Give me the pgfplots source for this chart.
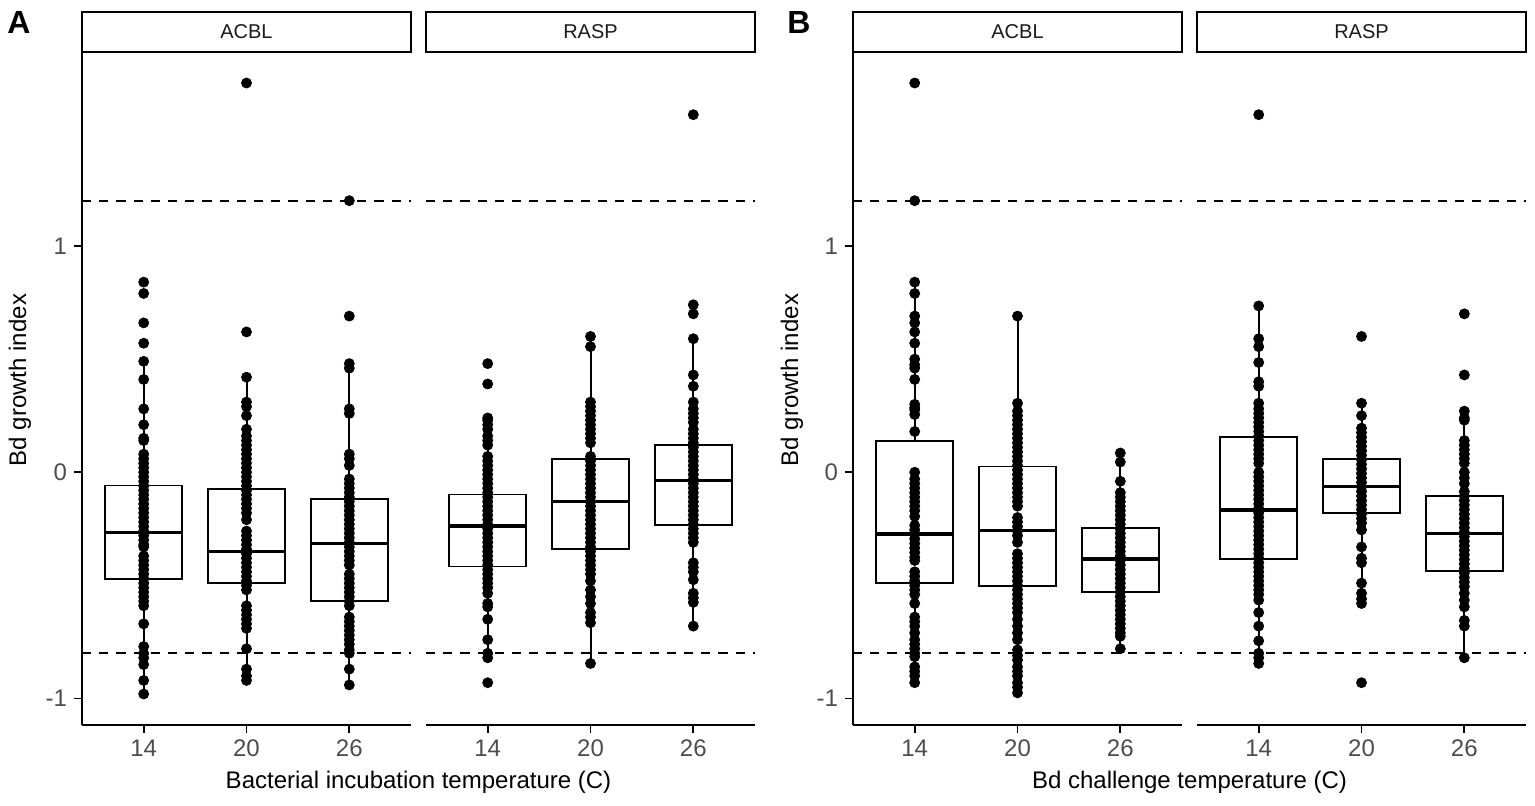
\documentclass[border=0pt]{standalone}
\usepackage{fontspec}
\setmainfont{Liberation Sans}
\usepackage{pgfplots}
\pgfplotsset{compat=1.18}
\usepgfplotslibrary{statistics}
\definecolor{tickgrey}{HTML}{4D4D4D}
\definecolor{stripgrey}{HTML}{1A1A1A}
\pgfplotsset{
  /pgfplots/boxplot/every whisker/.style={line width=1pt, draw=black, solid},
  /pgfplots/boxplot/every box/.style={line width=0.85pt, draw=black, fill=white, solid},
  /pgfplots/boxplot/every median/.style={line width=1.7pt, draw=black, solid},
  facet/.style={
    width=164.5pt, height=336.5pt, scale only axis,
    xmin=0.4, xmax=3.6, ymin=-1.117, ymax=1.857,
    axis x line*=bottom,
    xtick={1,2,3}, xticklabels={14,20,26},
    tick align=outside, major tick length=4pt,
    tick style={black, line width=0.9pt},
    axis line style={-, line width=0.9pt},
    ticklabel style={font=\fontsize{12}{14}\selectfont, text=tickgrey},
    clip=false,
  },
  leftfacet/.style={facet, axis y line*=left, ytick={-1,0,1}, yticklabels={-1,0,1}},
  rightfacet/.style={facet, axis y line=none, ytick=\empty},
  bx/.style={boxplot prepared={#1, draw direction=y, box extend=0.75, whisker extend=0},
    draw=black, fill=white, line width=0.85pt, solid, mark=none},
  pts/.style={only marks, mark=*, mark size=2.5pt, black, mark options={draw=none, fill=black}},
  refl/.style={black, line width=1pt, dash pattern=on 4.6pt off 4pt},
}
\newcommand{\strip}[1]{%
  \draw[line width=0.9pt] (rel axis cs:0,1) rectangle (rel axis cs:1,1.0594);
  \node[font=\fontsize{10}{12}\selectfont, text=stripgrey] at (rel axis cs:0.5,1.0297) {#1};}
\begin{document}
\begin{tikzpicture}
\path[use as bounding box] (0,0) rectangle (767.5pt,402.5pt);
% ---------------- Panel A, ACBL
\begin{axis}[leftfacet, at={(41pt,40pt)}, anchor=south west]
\addplot[refl] coordinates {(0.4,1.2) (3.6,1.2)};
\addplot[refl] coordinates {(0.4,-0.8) (3.6,-0.8)};
\addplot[bx={lower whisker=-0.98, lower quartile=-0.473, median=-0.265, upper quartile=-0.059, upper whisker=0.49, draw position=1}] coordinates {};
\addplot[bx={lower whisker=-0.92, lower quartile=-0.491, median=-0.351, upper quartile=-0.075, upper whisker=0.42, draw position=2}] coordinates {};
\addplot[bx={lower whisker=-0.94, lower quartile=-0.569, median=-0.314, upper quartile=-0.118, upper whisker=0.48, draw position=3}] coordinates {};
\addplot[pts] coordinates {
(1,0.84) (1,0.79) (1,0.66) (1,0.57) (1,0.49) (1,0.41) (1,0.28) (1,0.21) (1,0.15) (1,0.14)
(1,0.08) (1,0.06) (1,0.04) (1,0.02) (1,0.00) (1,-0.02) (1,-0.04) (1,-0.06) (1,-0.08) (1,-0.10)
(1,-0.12) (1,-0.14) (1,-0.16) (1,-0.18) (1,-0.20) (1,-0.22) (1,-0.24) (1,-0.26) (1,-0.28) (1,-0.30)
(1,-0.32) (1,-0.33) (1,-0.37) (1,-0.39) (1,-0.41) (1,-0.43) (1,-0.45) (1,-0.47) (1,-0.49) (1,-0.51)
(1,-0.53) (1,-0.55) (1,-0.57) (1,-0.59) (1,-0.67) (1,-0.77) (1,-0.80) (1,-0.82) (1,-0.85) (1,-0.92) (1,-0.98)
(2,1.72) (2,0.62) (2,0.42) (2,0.31) (2,0.29) (2,0.25) (2,0.19) (2,0.16) (2,0.14) (2,0.12)
(2,0.10) (2,0.08) (2,0.06) (2,0.04) (2,0.02) (2,0.00) (2,-0.02) (2,-0.04) (2,-0.06) (2,-0.08)
(2,-0.10) (2,-0.12) (2,-0.14) (2,-0.16) (2,-0.18) (2,-0.21) (2,-0.26) (2,-0.28) (2,-0.30) (2,-0.32)
(2,-0.34) (2,-0.36) (2,-0.38) (2,-0.40) (2,-0.42) (2,-0.44) (2,-0.46) (2,-0.48) (2,-0.50) (2,-0.52)
(2,-0.59) (2,-0.61) (2,-0.63) (2,-0.65) (2,-0.67) (2,-0.69) (2,-0.78) (2,-0.87) (2,-0.90) (2,-0.92)
(3,1.20) (3,0.69) (3,0.48) (3,0.46) (3,0.28) (3,0.26) (3,0.08) (3,0.06) (3,0.03)
(3,-0.03) (3,-0.05) (3,-0.07) (3,-0.09) (3,-0.11) (3,-0.13) (3,-0.15) (3,-0.17) (3,-0.19) (3,-0.21)
(3,-0.23) (3,-0.25) (3,-0.27) (3,-0.29) (3,-0.31) (3,-0.33) (3,-0.35) (3,-0.37) (3,-0.39) (3,-0.41)
(3,-0.45) (3,-0.47) (3,-0.49) (3,-0.51) (3,-0.53) (3,-0.55) (3,-0.57) (3,-0.59)
(3,-0.64) (3,-0.66) (3,-0.68) (3,-0.70) (3,-0.72) (3,-0.74) (3,-0.76) (3,-0.785) (3,-0.80) (3,-0.87) (3,-0.94)
};
\strip{ACBL}
\end{axis}
% ---------------- Panel A, RASP
\begin{axis}[rightfacet, at={(213pt,40pt)}, anchor=south west]
\addplot[refl] coordinates {(0.4,1.2) (3.6,1.2)};
\addplot[refl] coordinates {(0.4,-0.8) (3.6,-0.8)};
\addplot[bx={lower whisker=-0.82, lower quartile=-0.417, median=-0.237, upper quartile=-0.099, upper whisker=0.24, draw position=1}] coordinates {};
\addplot[bx={lower whisker=-0.845, lower quartile=-0.340, median=-0.130, upper quartile=0.059, upper whisker=0.60, draw position=2}] coordinates {};
\addplot[bx={lower whisker=-0.68, lower quartile=-0.233, median=-0.037, upper quartile=0.121, upper whisker=0.59, draw position=3}] coordinates {};
\addplot[pts] coordinates {
(1,0.48) (1,0.39) (1,0.24) (1,0.23) (1,0.21) (1,0.19) (1,0.16) (1,0.14) (1,0.12)
(1,0.07) (1,0.05) (1,0.03) (1,0.01) (1,-0.01) (1,-0.03) (1,-0.05) (1,-0.07) (1,-0.09) (1,-0.11)
(1,-0.13) (1,-0.15) (1,-0.17) (1,-0.19) (1,-0.21) (1,-0.23) (1,-0.25) (1,-0.27) (1,-0.29) (1,-0.31)
(1,-0.33) (1,-0.35) (1,-0.37) (1,-0.39) (1,-0.41) (1,-0.43) (1,-0.45) (1,-0.47) (1,-0.49) (1,-0.51) (1,-0.535)
(1,-0.58) (1,-0.595) (1,-0.65) (1,-0.74) (1,-0.80) (1,-0.82) (1,-0.93)
(2,0.60) (2,0.555) (2,0.31) (2,0.29) (2,0.27) (2,0.25) (2,0.23) (2,0.21) (2,0.19) (2,0.17) (2,0.15) (2,0.13)
(2,0.07) (2,0.05) (2,0.03) (2,0.01) (2,-0.01) (2,-0.03) (2,-0.05) (2,-0.07) (2,-0.09) (2,-0.11)
(2,-0.13) (2,-0.15) (2,-0.17) (2,-0.19) (2,-0.21) (2,-0.23) (2,-0.25) (2,-0.27) (2,-0.29) (2,-0.31)
(2,-0.33) (2,-0.35) (2,-0.37) (2,-0.39) (2,-0.41) (2,-0.43) (2,-0.45) (2,-0.48)
(2,-0.52) (2,-0.55) (2,-0.58) (2,-0.62) (2,-0.64) (2,-0.665) (2,-0.845)
(3,1.58) (3,0.74) (3,0.70) (3,0.59) (3,0.43) (3,0.38) (3,0.31) (3,0.28) (3,0.26) (3,0.24) (3,0.22)
(3,0.19) (3,0.17) (3,0.15) (3,0.13) (3,0.11) (3,0.09) (3,0.07) (3,0.05) (3,0.03) (3,0.01)
(3,-0.01) (3,-0.03) (3,-0.05) (3,-0.07) (3,-0.09) (3,-0.11) (3,-0.13) (3,-0.15) (3,-0.17) (3,-0.19)
(3,-0.21) (3,-0.23) (3,-0.25) (3,-0.27) (3,-0.29) (3,-0.31)
(3,-0.40) (3,-0.42) (3,-0.44) (3,-0.475) (3,-0.535) (3,-0.555) (3,-0.575) (3,-0.68)
};
\strip{RASP}
\end{axis}
% ---------------- Panel B, ACBL
\begin{axis}[leftfacet, at={(426.5pt,40pt)}, anchor=south west]
\addplot[refl] coordinates {(0.4,1.2) (3.6,1.2)};
\addplot[refl] coordinates {(0.4,-0.8) (3.6,-0.8)};
\addplot[bx={lower whisker=-0.93, lower quartile=-0.491, median=-0.273, upper quartile=0.138, upper whisker=0.84, draw position=1}] coordinates {};
\addplot[bx={lower whisker=-0.975, lower quartile=-0.502, median=-0.258, upper quartile=0.025, upper whisker=0.69, draw position=2}] coordinates {};
\addplot[bx={lower whisker=-0.78, lower quartile=-0.530, median=-0.383, upper quartile=-0.245, upper whisker=0.085, draw position=3}] coordinates {};
\addplot[pts] coordinates {
(1,1.72) (1,1.20) (1,0.84) (1,0.79) (1,0.69) (1,0.66) (1,0.62) (1,0.57) (1,0.50) (1,0.475) (1,0.46) (1,0.41)
(1,0.30) (1,0.285) (1,0.275) (1,0.255) (1,0.18)
(1,0.00) (1,-0.03) (1,-0.05) (1,-0.07) (1,-0.09) (1,-0.11) (1,-0.13) (1,-0.15) (1,-0.17) (1,-0.195)
(1,-0.235) (1,-0.255) (1,-0.275) (1,-0.295) (1,-0.315) (1,-0.335) (1,-0.355) (1,-0.375) (1,-0.39)
(1,-0.44) (1,-0.46) (1,-0.48) (1,-0.50) (1,-0.52) (1,-0.54) (1,-0.58)
(1,-0.64) (1,-0.66) (1,-0.68) (1,-0.71) (1,-0.74) (1,-0.76) (1,-0.78) (1,-0.80) (1,-0.815)
(1,-0.86) (1,-0.88) (1,-0.90) (1,-0.93)
(2,0.69) (2,0.305) (2,0.27) (2,0.25) (2,0.23) (2,0.21) (2,0.19) (2,0.17) (2,0.15) (2,0.13) (2,0.11)
(2,0.09) (2,0.07) (2,0.05) (2,0.03) (2,0.01) (2,-0.01) (2,-0.03) (2,-0.05) (2,-0.07) (2,-0.09)
(2,-0.11) (2,-0.13) (2,-0.15) (2,-0.20) (2,-0.22) (2,-0.24) (2,-0.26) (2,-0.28) (2,-0.31)
(2,-0.36) (2,-0.38) (2,-0.40) (2,-0.42) (2,-0.44) (2,-0.46) (2,-0.48) (2,-0.50) (2,-0.52) (2,-0.54)
(2,-0.56) (2,-0.58) (2,-0.60) (2,-0.62) (2,-0.65) (2,-0.68) (2,-0.71) (2,-0.74)
(2,-0.785) (2,-0.81) (2,-0.83) (2,-0.86) (2,-0.88) (2,-0.90) (2,-0.93) (2,-0.95) (2,-0.975)
(3,0.085) (3,0.045) (3,-0.04) (3,-0.09) (3,-0.11) (3,-0.13) (3,-0.15) (3,-0.17) (3,-0.19) (3,-0.21)
(3,-0.23) (3,-0.25) (3,-0.27) (3,-0.29) (3,-0.31) (3,-0.33) (3,-0.35) (3,-0.37) (3,-0.39) (3,-0.41)
(3,-0.43) (3,-0.45) (3,-0.47) (3,-0.49) (3,-0.51) (3,-0.53) (3,-0.55) (3,-0.57) (3,-0.59) (3,-0.61)
(3,-0.63) (3,-0.65) (3,-0.67) (3,-0.69) (3,-0.71) (3,-0.725) (3,-0.78)
};
\strip{ACBL}
\end{axis}
% ---------------- Panel B, RASP
\begin{axis}[rightfacet, at={(598.5pt,40pt)}, anchor=south west]
\addplot[refl] coordinates {(0.4,1.2) (3.6,1.2)};
\addplot[refl] coordinates {(0.4,-0.8) (3.6,-0.8)};
\addplot[bx={lower whisker=-0.845, lower quartile=-0.383, median=-0.167, upper quartile=0.155, upper whisker=0.735, draw position=1}] coordinates {};
\addplot[bx={lower whisker=-0.58, lower quartile=-0.181, median=-0.063, upper quartile=0.057, upper whisker=0.305, draw position=2}] coordinates {};
\addplot[bx={lower whisker=-0.82, lower quartile=-0.435, median=-0.270, upper quartile=-0.105, upper whisker=0.27, draw position=3}] coordinates {};
\addplot[pts] coordinates {
(1,1.58) (1,0.735) (1,0.59) (1,0.555) (1,0.485) (1,0.40) (1,0.38) (1,0.305) (1,0.28) (1,0.26)
(1,0.24) (1,0.22) (1,0.20) (1,0.18) (1,0.16) (1,0.14) (1,0.12) (1,0.10) (1,0.08) (1,0.06) (1,0.04)
(1,0.00) (1,-0.02) (1,-0.04) (1,-0.06) (1,-0.08) (1,-0.10) (1,-0.12) (1,-0.14) (1,-0.16) (1,-0.18)
(1,-0.20) (1,-0.22) (1,-0.24) (1,-0.26) (1,-0.28) (1,-0.30) (1,-0.32) (1,-0.34) (1,-0.36) (1,-0.38)
(1,-0.40) (1,-0.42) (1,-0.44) (1,-0.46) (1,-0.48) (1,-0.50) (1,-0.52) (1,-0.54) (1,-0.565)
(1,-0.62) (1,-0.68) (1,-0.745) (1,-0.80) (1,-0.82) (1,-0.845)
(2,0.60) (2,0.305) (2,0.25) (2,0.195) (2,0.175) (2,0.155) (2,0.135) (2,0.115) (2,0.095) (2,0.075)
(2,0.055) (2,0.035) (2,0.015) (2,-0.005) (2,-0.025) (2,-0.045) (2,-0.065) (2,-0.085) (2,-0.105)
(2,-0.125) (2,-0.145) (2,-0.165) (2,-0.185) (2,-0.205) (2,-0.225) (2,-0.255)
(2,-0.33) (2,-0.38) (2,-0.40) (2,-0.49) (2,-0.535) (2,-0.56) (2,-0.58) (2,-0.93)
(3,0.70) (3,0.43) (3,0.27) (3,0.24) (3,0.23) (3,0.14) (3,0.12) (3,0.10) (3,0.08) (3,0.06) (3,0.04)
(3,0.00) (3,-0.025) (3,-0.05) (3,-0.085) (3,-0.105) (3,-0.125) (3,-0.145) (3,-0.165) (3,-0.185)
(3,-0.205) (3,-0.225) (3,-0.245) (3,-0.265) (3,-0.285) (3,-0.305) (3,-0.325) (3,-0.345) (3,-0.365)
(3,-0.385) (3,-0.405) (3,-0.425) (3,-0.445) (3,-0.465) (3,-0.485) (3,-0.505) (3,-0.535)
(3,-0.565) (3,-0.595) (3,-0.655) (3,-0.68) (3,-0.82)
};
\strip{RASP}
\end{axis}
% ---------------- titles and labels
\node[font=\fontsize{16}{18}\selectfont\bfseries, anchor=center] at (9.5pt,391.5pt) {A};
\node[font=\fontsize{16}{18}\selectfont\bfseries, anchor=center] at (399.5pt,391.5pt) {B};
\node[font=\fontsize{12}{14}\selectfont, rotate=90] at (10pt,212.5pt) {Bd growth index};
\node[font=\fontsize{12}{14}\selectfont, rotate=90] at (396pt,212.5pt) {Bd growth index};
\node[font=\fontsize{12}{14}\selectfont] at (209.25pt,11.5pt) {Bacterial incubation temperature (C)};
\node[font=\fontsize{12}{14}\selectfont] at (594.75pt,11.5pt) {Bd challenge temperature (C)};
\end{tikzpicture}
\end{document}
